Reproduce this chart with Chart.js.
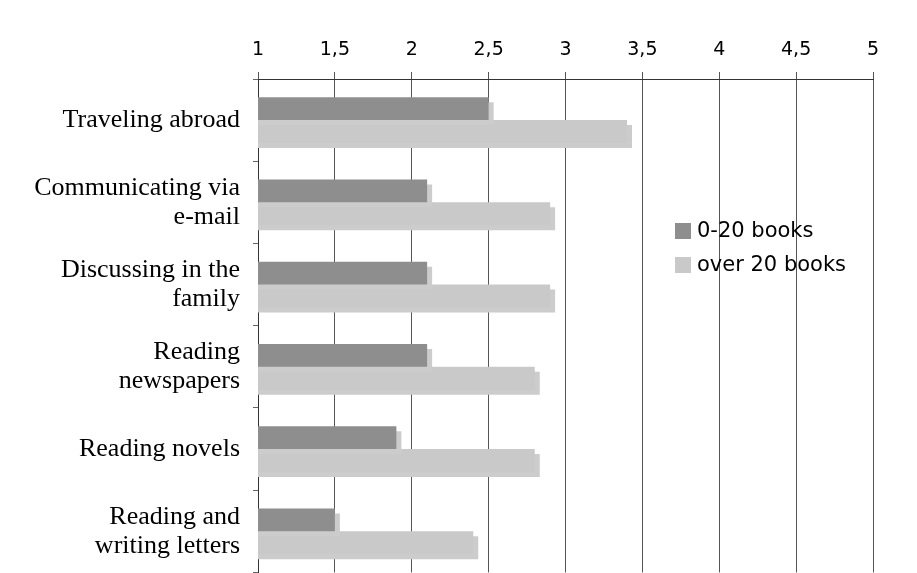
<!DOCTYPE html>
<html>
<head>
<meta charset="utf-8">
<script src="https://cdn.jsdelivr.net/npm/chart.js@4"></script>
<style>
  html, body { margin: 0; padding: 0; background: #fff; overflow: hidden; }
  #wrap { position: absolute; left: 0; top: 0; width: 917px; height: 600px; }
</style>
</head>
<body>
<div id="wrap"><canvas id="chart"></canvas></div>
<script>
const categories = [
    ["Traveling abroad"],
    ["Communicating via", "e-mail"],
    ["Discussing in the", "family"],
    ["Reading", "newspapers"],
    ["Reading novels"],
    ["Reading and", "writing letters"]
];
const seriesNames = ["0-20 books", "over 20 books"];
const books0to20 = [2.5, 2.1, 2.1, 2.1, 1.9, 1.5];
const booksOver20 = [3.4, 2.9, 2.9, 2.8, 2.8, 2.4];
const tickValues = [1, 1.5, 2, 2.5, 3, 3.5, 4, 4.5, 5];

// hard drop shadow behind every bar
const barShadow = {
    id: "barShadow",
    beforeDatasetsDraw(chart) {
        const ctx = chart.ctx;
        ctx.save();
        ctx.shadowColor = "#cccccc";
        ctx.shadowOffsetX = 5;
        ctx.shadowOffsetY = 5;
        ctx.shadowBlur = 0;
    },
    afterDatasetsDraw(chart) {
        chart.ctx.restore();
    }
};

// legend drawn inside the plot, right middle
const innerLegend = {
    id: "innerLegend",
    afterDraw(chart) {
        const ctx = chart.ctx;
        ctx.save();
        ctx.font = "21px 'DejaVu Sans'";
        ctx.textBaseline = "middle";
        chart.data.datasets.forEach((ds, i) => {
            const y = 231 + i * 34;
            ctx.fillStyle = ds.backgroundColor;
            ctx.fillRect(675, y - 8, 16, 16);
            ctx.fillStyle = "#000";
            ctx.fillText(ds.label, 697, y + 1);
        });
        ctx.restore();
    }
};

new Chart(document.getElementById("chart"), {
    type: "bar",
    data: {
        labels: categories,
        datasets: [
            {
                label: seriesNames[0],
                data: books0to20,
                backgroundColor: "#8e8e8e",
                barPercentage: 1,
                categoryPercentage: 0.555
            },
            {
                label: seriesNames[1],
                data: booksOver20,
                backgroundColor: "#c9c9c9",
                barPercentage: 1,
                categoryPercentage: 0.555
            }
        ]
    },
    options: {
        indexAxis: "y",
        responsive: true,
        maintainAspectRatio: false,
        animation: false,
        layout: { padding: { left: 0, top: 0, right: 44, bottom: 23 } },
        plugins: {
            legend: { display: false },
            tooltip: { enabled: false }
        },
        scales: {
            x: {
                position: "top",
                min: 1,
                max: 5,
                afterBuildTicks(scale) {
                    scale.ticks = tickValues.map(v => ({ value: v }));
                },
                afterFit(scale) { scale.height = 79; },
                ticks: {
                    color: "#000",
                    font: { family: "'DejaVu Sans'", size: 19 },
                    padding: 11,
                    maxRotation: 0,
                    callback: v => String(v).replace(".", ",")
                },
                grid: { color: "#555", tickLength: 7, drawTicks: true },
                border: { color: "#333" }
            },
            y: {
                afterFit(scale) { scale.width = 258; },
                ticks: {
                    color: "#000",
                    font: { family: "'Liberation Serif'", size: 26, lineHeight: 1.12 },
                    padding: 13
                },
                grid: { offset: true, drawOnChartArea: false, tickLength: 5, color: "#666" },
                border: { color: "#333" }
            }
        }
    },
    plugins: [barShadow, innerLegend]
});
</script>
</body>
</html>
